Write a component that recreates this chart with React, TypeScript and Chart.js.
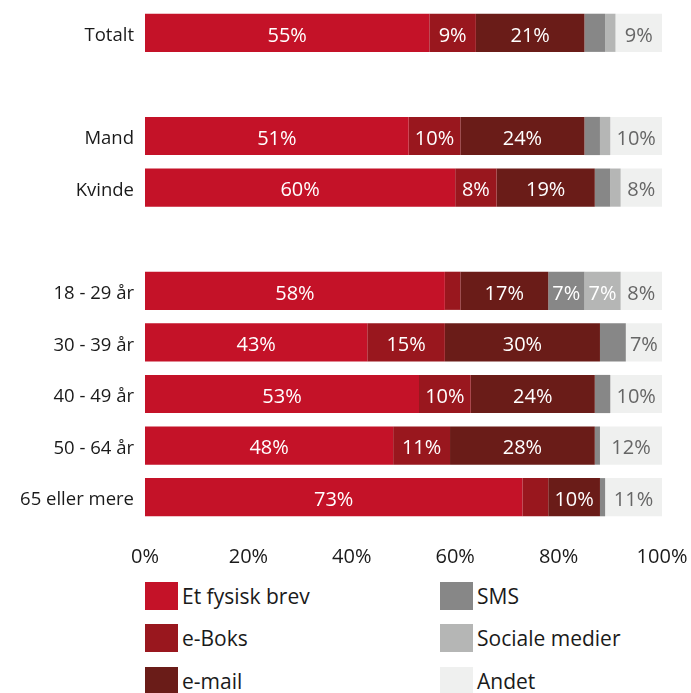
import React, { useEffect, useRef } from "react";
import { Chart, registerables } from "chart.js";

Chart.register(...registerables);

const categories = [
  "Totalt",
  "",
  "Mand",
  "Kvinde",
  "",
  "18 - 29 år",
  "30 - 39 år",
  "40 - 49 år",
  "50 - 64 år",
  "65 eller mere",
];

const seriesNames = ["Et fysisk brev", "e-Boks", "e-mail", "SMS", "Sociale medier", "Andet"];
const seriesColors = ["#C41228", "#99171E", "#6A1C18", "#878787", "#B5B6B5", "#EFF0EF"];
const labelColors = ["#FFFFFF", "#FFFFFF", "#FFFFFF", "#FFFFFF", "#FFFFFF", "#666666"];

const fysiskBrev = [55, null, 51, 60, null, 58, 43, 53, 48, 73];
const eBoks = [9, null, 10, 8, null, 3, 15, 10, 11, 5];
const eMail = [21, null, 24, 19, null, 17, 30, 24, 28, 10];
const sms = [4, null, 3, 3, null, 7, 5, 3, 1, 1];
const socialeMedier = [2, null, 2, 2, null, 7, 0, 0, 0, 0];
const andet = [9, null, 10, 8, null, 8, 7, 10, 12, 11];

const seriesValues = [fysiskBrev, eBoks, eMail, sms, socialeMedier, andet];

const xTicks = [0, 20, 40, 60, 80, 100];

const FONT = "'Open Sans', 'Noto Sans', sans-serif";

const labelPlugin = {
  id: "segmentLabels",
  afterDatasetsDraw(chart: any) {
    const ctx = chart.ctx;
    ctx.save();
    ctx.font = `20px ${FONT}`;
    ctx.textAlign = "center";
    ctx.textBaseline = "middle";
    chart.data.datasets.forEach((ds: any, i: number) => {
      const meta = chart.getDatasetMeta(i);
      meta.data.forEach((bar: any, j: number) => {
        const v = ds.data[j];
        if (v == null || v < 6) return;
        const p = bar.getProps(["x", "y", "base"], true);
        ctx.fillStyle = labelColors[i];
        ctx.fillText(`${v}%`, (p.x + p.base) / 2, p.y + 3);
      });
    });
    ctx.restore();
  },
};

export default function App() {
  const canvasRef = useRef<HTMLCanvasElement | null>(null);

  useEffect(() => {
    document.body.style.margin = "0";
    const canvas = canvasRef.current;
    if (!canvas) return;
    const chart = new Chart(canvas, {
      type: "bar",
      data: {
        labels: categories,
        datasets: seriesNames.map((name, i) => ({
          label: name,
          data: seriesValues[i],
          backgroundColor: seriesColors[i],
          borderWidth: 0,
          barPercentage: 0.74,
          categoryPercentage: 1,
        })),
      },
      options: {
        indexAxis: "y",
        animation: false,
        responsive: false,
        maintainAspectRatio: false,
        layout: { padding: { top: 7, right: 29, bottom: 0, left: 0 } },
        plugins: {
          legend: { display: false },
          tooltip: { enabled: false },
        },
        scales: {
          x: {
            stacked: true,
            min: 0,
            max: 100,
            grid: { display: false, tickLength: 0 },
            border: { display: false },
            afterBuildTicks(scale: any) {
              scale.ticks = xTicks.map((v) => ({ value: v }));
            },
            afterFit(scale: any) {
              scale.height = 52;
              scale.paddingLeft = 0;
              scale.paddingRight = 0;
            },
            ticks: {
              padding: 22,
              color: "#1a1a1a",
              font: { family: FONT, size: 20 },
              callback: (v: any) => `${v}%`,
            },
          },
          y: {
            stacked: true,
            grid: { display: false, tickLength: 0 },
            border: { display: false },
            afterFit(scale: any) {
              scale.width = 145;
              scale.paddingTop = 0;
              scale.paddingBottom = 0;
            },
            ticks: {
              padding: 11,
              labelOffset: 3,
              color: "#1a1a1a",
              font: { family: FONT, size: 18.5 },
            },
          },
        },
      },
      plugins: [labelPlugin],
    });
    return () => chart.destroy();
  }, []);

  const legendPos = [
    { left: 145, top: 582 },
    { left: 145, top: 624 },
    { left: 145, top: 667 },
    { left: 440, top: 582 },
    { left: 440, top: 624 },
    { left: 440, top: 667 },
  ];

  return (
    <div style={{ position: "relative", width: 691, height: 693, background: "#fff", overflow: "hidden" }}>
      <canvas ref={canvasRef} width={691} height={575} style={{ position: "absolute", left: 0, top: 0 }} />
      {seriesNames.map((name, i) => (
        <div
          key={name}
          style={{
            position: "absolute",
            left: legendPos[i].left,
            top: legendPos[i].top,
            display: "flex",
            alignItems: "center",
            fontFamily: FONT,
            fontSize: 21,
            color: "#1a1a1a",
            whiteSpace: "nowrap",
          }}
        >
          <span style={{ display: "inline-block", width: 33, height: 28, background: seriesColors[i], marginRight: 4 }} />
          <span>{name}</span>
        </div>
      ))}
    </div>
  );
}
